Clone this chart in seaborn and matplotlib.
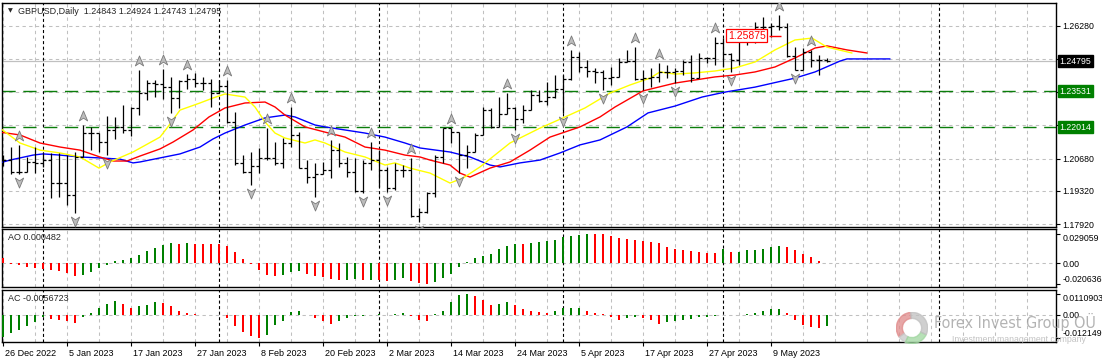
import numpy as np
import seaborn as sns
import matplotlib.pyplot as plt
from matplotlib.path import Path
from matplotlib.patches import Wedge
from matplotlib.transforms import blended_transform_factory, ScaledTranslation

# ---------------- data (GBPUSD, Daily) ----------------
date_labels = ["26 Dec 2022", "5 Jan 2023", "17 Jan 2023", "27 Jan 2023", "8 Feb 2023",
               "20 Feb 2023", "2 Mar 2023", "14 Mar 2023", "24 Mar 2023", "5 Apr 2023",
               "17 Apr 2023", "27 Apr 2023", "9 May 2023"]

highs = [1.2083, 1.2117, 1.2126, 1.2075, 1.2117, 1.2092, 1.2092, 1.2092, 1.2083, 1.2096,
         1.2210, 1.2202, 1.2176, 1.2248, 1.2244, 1.2294, 1.2286, 1.2442, 1.2400, 1.2400,
         1.2446, 1.2413, 1.2400, 1.2425, 1.2429, 1.2413, 1.2404, 1.2400, 1.2400, 1.2265,
         1.2083, 1.2096, 1.2113, 1.2197, 1.2138, 1.2155, 1.2286, 1.2180, 1.2062, 1.2050,
         1.2054, 1.2147, 1.2134, 1.2075, 1.2071, 1.2062, 1.2138, 1.2104, 1.2033, 1.2050,
         1.2041, 1.2071, 1.1860, 1.1927, 1.2083, 1.2197, 1.2197, 1.2180, 1.2126, 1.2176,
         1.2286, 1.2282, 1.2328, 1.2345, 1.2286, 1.2294, 1.2358, 1.2358, 1.2392, 1.2421,
         1.2421, 1.2527, 1.2518, 1.2484, 1.2451, 1.2442, 1.2455, 1.2493, 1.2527, 1.2539,
         1.2442, 1.2451, 1.2472, 1.2463, 1.2451, 1.2484, 1.2506, 1.2514, 1.2497, 1.2582,
         1.2577, 1.2514, 1.2582, 1.2603, 1.2645, 1.2666, 1.2641, 1.2674, 1.2641, 1.2539,
         1.2535, 1.2527, 1.2506, 1.24924]
lows = [1.2037, 1.2003, 1.2003, 1.2012, 1.2007, 1.2033, 1.1902, 1.1906, 1.1872, 1.1838,
        1.2075, 1.2104, 1.2096, 1.2083, 1.2151, 1.2176, 1.2164, 1.2252, 1.2316, 1.2328,
        1.2320, 1.2261, 1.2282, 1.2362, 1.2370, 1.2358, 1.2286, 1.2345, 1.2218, 1.2041,
        1.2007, 1.1957, 1.2007, 1.2062, 1.2041, 1.2028, 1.2117, 1.2028, 1.1965, 1.1906,
        1.2003, 1.1986, 1.2033, 1.1990, 1.1927, 1.1923, 1.2020, 1.1948, 1.1927, 1.1936,
        1.1990, 1.1822, 1.1800, 1.1838, 1.1906, 1.2050, 1.2134, 1.2007, 1.2028, 1.2096,
        1.2168, 1.2197, 1.2202, 1.2256, 1.2189, 1.2218, 1.2273, 1.2307, 1.2294, 1.2324,
        1.2261, 1.2400, 1.2434, 1.2413, 1.2387, 1.2358, 1.2379, 1.2413, 1.2476, 1.2400,
        1.2358, 1.2370, 1.2392, 1.2408, 1.2387, 1.2421, 1.2392, 1.2408, 1.2472, 1.2463,
        1.2455, 1.2434, 1.2463, 1.2548, 1.2556, 1.2590, 1.2582, 1.2611, 1.2497, 1.2442,
        1.2442, 1.2455, 1.2421, 1.24743]
opens = [1.2050, 1.2062, 1.2012, 1.2012, 1.2054, 1.2050, 1.2062, 1.1965, 1.1965, 1.1914,
         1.2075, 1.2176, 1.2176, 1.2138, 1.2189, 1.2202, 1.2189, 1.2282, 1.2345, 1.2387,
         1.2383, 1.2370, 1.2324, 1.2396, 1.2404, 1.2387, 1.2387, 1.2345, 1.2375, 1.2223,
         1.2050, 1.2012, 1.2037, 1.2071, 1.2071, 1.2050, 1.2134, 1.2168, 1.2028, 1.1990,
         1.2003, 1.2020, 1.2104, 1.2050, 1.2012, 1.1931, 1.2050, 1.2062, 1.2020, 1.1944,
         1.2020, 1.2020, 1.1826, 1.1843, 1.1923, 1.2075, 1.2197, 1.2180, 1.2083, 1.2096,
         1.2168, 1.2273, 1.2202, 1.2256, 1.2282, 1.2235, 1.2273, 1.2337, 1.2311, 1.2328,
         1.2362, 1.2404, 1.2497, 1.2455, 1.2438, 1.2434, 1.2408, 1.2413, 1.2476, 1.2480,
         1.2404, 1.2408, 1.2413, 1.2434, 1.2434, 1.2438, 1.2476, 1.2408, 1.2493, 1.2493,
         1.2556, 1.2510, 1.2484, 1.2582, 1.2590, 1.2624, 1.2624, 1.2628, 1.2624, 1.2501,
         1.2442, 1.2518, 1.2484, 1.24843]
closes = [1.2062, 1.2012, 1.2012, 1.2054, 1.2050, 1.2062, 1.1965, 1.1965, 1.1914, 1.2075,
          1.2176, 1.2176, 1.2138, 1.2189, 1.2202, 1.2189, 1.2282, 1.2345, 1.2387, 1.2383,
          1.2370, 1.2324, 1.2396, 1.2404, 1.2387, 1.2387, 1.2345, 1.2375, 1.2223, 1.2050,
          1.2012, 1.2037, 1.2071, 1.2071, 1.2050, 1.2134, 1.2168, 1.2028, 1.1990, 1.2003,
          1.2020, 1.2104, 1.2050, 1.2012, 1.1931, 1.2050, 1.2062, 1.2020, 1.1944, 1.2020,
          1.2020, 1.1826, 1.1843, 1.1923, 1.2075, 1.2197, 1.2180, 1.2083, 1.2096, 1.2168,
          1.2273, 1.2202, 1.2256, 1.2282, 1.2235, 1.2273, 1.2337, 1.2311, 1.2328, 1.2362,
          1.2404, 1.2497, 1.2455, 1.2438, 1.2434, 1.2408, 1.2413, 1.2476, 1.2480, 1.2404,
          1.2408, 1.2413, 1.2434, 1.2434, 1.2438, 1.2476, 1.2408, 1.2493, 1.2493, 1.2556,
          1.2510, 1.2484, 1.2582, 1.2590, 1.2624, 1.2624, 1.2628, 1.2624, 1.2501, 1.2442,
          1.2518, 1.2484, 1.2484, 1.24795]

# Alligator lines (bar position, price) - shifted into the future
jaw_x = [-0.375, 0.875, 2.125, 3.75, 5, 7.125, 9.625, 12.125, 14.625, 16.25, 17.125, 19.625,
         22.125, 24.625, 26.25, 27.75, 30.25, 32.75, 35.25, 36.5, 39, 40.25, 42.75, 45.25,
         47.75, 50.25, 52.125, 55.875, 58.375, 60.875, 62.125, 64.625, 67.125, 69.625,
         72.125, 74.625, 78, 80.625, 84, 87.375, 90.25, 94, 96.875, 99, 101.5, 104.625,
         105.5, 108, 110.875]
jaw_y = [1.2050, 1.2062, 1.2071, 1.2083, 1.2088, 1.2083, 1.2075, 1.2071, 1.2066, 1.2050,
         1.2054, 1.2071, 1.2088, 1.2117, 1.2151, 1.2176, 1.2210, 1.2240, 1.2252, 1.2244,
         1.2210, 1.2202, 1.2189, 1.2176, 1.2159, 1.2134, 1.2113, 1.2096, 1.2075, 1.2041,
         1.2033, 1.2050, 1.2062, 1.2092, 1.2126, 1.2147, 1.2202, 1.2261, 1.2290, 1.2328,
         1.2349, 1.2370, 1.2392, 1.2408, 1.2434, 1.2480, 1.2489, 1.2489, 1.2489]
teeth_x = [-0.375, 2.125, 4.625, 7.125, 9.625, 12.125, 13.75, 15.5, 17.125, 19.625, 21.25,
           23.75, 25.75, 27.75, 30.25, 32.75, 34, 35.25, 37.75, 40.25, 42.75, 45.25, 47.75,
           50.25, 52.125, 53.375, 55.875, 57.125, 58.375, 60.875, 63.375, 65.875, 68.375,
           72.125, 74.625, 76.5, 80, 84, 86.5, 89, 91.5, 94, 96.5, 99, 101.5, 103, 105.5, 108]
teeth_y = [1.2180, 1.2168, 1.2134, 1.2117, 1.2104, 1.2075, 1.2058, 1.2058, 1.2079, 1.2109,
           1.2138, 1.2189, 1.2244, 1.2282, 1.2303, 1.2307, 1.2286, 1.2252, 1.2202, 1.2180,
           1.2159, 1.2117, 1.2104, 1.2083, 1.2075, 1.2062, 1.2041, 1.2007, 1.1990, 1.2028,
           1.2054, 1.2104, 1.2159, 1.2202, 1.2244, 1.2286, 1.2354, 1.2387, 1.2400, 1.2413,
           1.2421, 1.2434, 1.2455, 1.2493, 1.2535, 1.2544, 1.2527, 1.2514]
lips_x = [-0.375, 2.125, 4.625, 7.125, 9.625, 12, 13.375, 16.25, 19.625, 20.5, 22.125,
          24.625, 26.25, 27.75, 30.25, 31.5, 32.75, 34, 35.25, 37.75, 39, 40.25, 42.75,
          45.25, 47.75, 49, 50.875, 53.375, 55.875, 57.5, 59.625, 63.375, 67.125, 70,
          72.75, 75.875, 78.375, 80.875, 82.125, 84, 86.5, 89, 91.5, 94, 96.5, 99,
          101.125, 103, 106.125]
lips_y = [1.2197, 1.2134, 1.2104, 1.2092, 1.2075, 1.2028, 1.2054, 1.2096, 1.2159, 1.2197,
          1.2273, 1.2303, 1.2324, 1.2341, 1.2328, 1.2286, 1.2223, 1.2176, 1.2155, 1.2134,
          1.2147, 1.2134, 1.2096, 1.2075, 1.2041, 1.2050, 1.2028, 1.2007, 1.1965, 1.1986,
          1.2033, 1.2134, 1.2197, 1.2240, 1.2282, 1.2345, 1.2379, 1.2408, 1.2434, 1.2425,
          1.2430, 1.2438, 1.2451, 1.2476, 1.2527, 1.2569, 1.2577, 1.2539, 1.2514]

# Bill Williams fractals (bar numbers)
up_fractals = [2, 10, 17, 20, 23, 28, 33, 36, 41, 46, 51, 56, 63, 71, 79, 82, 89, 97, 101]
down_fractals = [2, 9, 13, 21, 31, 39, 45, 48, 52, 57, 64, 70, 75, 80, 84, 91, 99]

ao = [0.0050, -0.0007, -0.0017, -0.0033, -0.0050, -0.0058, -0.0066, -0.0076, -0.0099, -0.0126,
      -0.0116, -0.0089, -0.0050, -0.0017, 0.0023, 0.0036, 0.0050, 0.0083, 0.0122, 0.0155,
      0.0182, 0.0203, 0.0193, 0.0205, 0.0193, 0.0192, 0.0190, 0.0189, 0.0172, 0.0116,
      0.0043, -0.0005, -0.0066, -0.0116, -0.0126, -0.0116, -0.0089, -0.0076, -0.0106, -0.0126,
      -0.0139, -0.0158, -0.0163, -0.0161, -0.0160, -0.0163, -0.0162, -0.0164, -0.0172, -0.0162,
      -0.0149, -0.0172, -0.0198, -0.020636, -0.0182, -0.0149, -0.0109, -0.0033, 0.0010, 0.0050,
      0.0076, 0.0093, 0.0139, 0.0172, 0.0192, 0.0190, 0.0205, 0.0215, 0.0217, 0.0231,
      0.0265, 0.0268, 0.0281, 0.029059, 0.0289, 0.0287, 0.0271, 0.0248, 0.0238, 0.0236,
      0.0225, 0.0208, 0.0198, 0.0165, 0.0142, 0.0132, 0.0122, 0.0109, 0.0106, 0.0105,
      0.0145, 0.0115, 0.0117, 0.0129, 0.0136, 0.0140, 0.0162, 0.0168, 0.0165, 0.0132,
      0.0093, 0.0060, 0.0023, 0.000482]
ac = [-0.0114, -0.0093, -0.0079, -0.0056, -0.0035, -0.0008, -0.0021, -0.0026, -0.0032, -0.0040,
      -0.0012, 0.0012, 0.0035, 0.0058, 0.0074, 0.0058, 0.0039, 0.0048, 0.0053, 0.0067,
      0.0065, 0.0048, 0.0021, 0.0009, 0.0004, 0.0002, 0.0001, 0.0000, -0.0018, -0.0056,
      -0.0092, -0.0110, -0.012149, -0.0106, -0.0053, -0.0030, 0.0014, 0.0021, 0.0000, -0.0018,
      -0.0030, -0.0048, -0.0030, -0.0014, -0.0005, -0.0003, -0.0001, 0.0004, 0.0001, 0.0004,
      0.0009, -0.0003, -0.0026, -0.0030, 0.0004, 0.0021, 0.0067, 0.0106, 0.0110903, 0.0100,
      0.0079, 0.0055, 0.0058, 0.0069, 0.0053, 0.0032, 0.0021, 0.0014, 0.0009, 0.0021,
      0.0035, 0.0036, 0.0037, 0.0021, 0.0009, 0.0004, -0.0009, -0.0026, -0.0018, -0.0012,
      -0.0018, -0.0026, -0.0049, -0.0035, -0.0030, -0.0026, -0.0019, -0.0012, -0.0009, -0.0004,
      0.0001, -0.0002, 0.0000, 0.0004, 0.0011, 0.0019, 0.0032, 0.0033, 0.0012, -0.0026,
      -0.0053, -0.0062, -0.0070, -0.0056723]

price_ticks = [1.26280, 1.24887, 1.23493, 1.22100, 1.20680, 1.19320, 1.17920]
price_tick_labels = ["1.26280", "", "", "", "1.20680", "1.19320", "1.17920"]
bid = 1.24795
levels = [1.23531, 1.22014]
label_price = 1.25875
month_starts = [5, 27, 47, 70, 90, 117]

# ---------------- styling ----------------
sns.set_style("white")
plt.rcParams['font.family'] = ['Liberation Sans', 'DejaVu Sans']
plt.rcParams['lines.scale_dashes'] = False

W, H = 1102, 363
fig = plt.figure(figsize=(W / 100, H / 100), dpi=100)
fig.patch.set_facecolor('white')


def px_box(x0, y0, x1, y1):
    return [x0 / W, 1 - y1 / H, (x1 - x0) / W, (y1 - y0) / H]


ax = fig.add_axes(px_box(2, 3, 1056, 227))
ao_ax = fig.add_axes(px_box(2, 229, 1056, 287))
ac_ax = fig.add_axes(px_box(2, 290, 1056, 342))

n = len(closes)
idx = np.arange(n)
grid_kw = dict(color='#c0c0c0', lw=0.75, ls=(0, (2.4, 2.4)), zorder=0)
sep_kw = dict(color='black', lw=0.8, ls=(0, (2.2, 1.8)), zorder=1)

for a in (ax, ao_ax, ac_ax):
    a.set_xlim(-0.125, 131.625)
    a.set_facecolor('white')
    for s in a.spines.values():
        s.set_color('black')
        s.set_linewidth(1.0)
    for g in np.arange(0, 132, 4):
        a.axvline(g, **grid_kw)
    for m in month_starts:
        a.axvline(m, **sep_kw)
    a.yaxis.tick_right()
    a.tick_params(axis='y', length=3, width=0.8, pad=1.5, labelsize=6.3, colors='black')
    a.tick_params(axis='x', bottom=False, labelbottom=False)

# ---- main price panel ----
ax.set_ylim(1.17794, 1.27251)
ax.set_yticks(price_ticks, price_tick_labels)
for p in price_ticks:
    ax.axhline(p, **grid_kw)
ax.axhline(bid, color='#c0c0c0', lw=0.9, zorder=1)
for lv in levels:
    ax.axhline(lv, color='#0a7d0a', lw=1.0, ls=(0, (9.5, 5.5)), zorder=1)

sns.lineplot(x=jaw_x, y=jaw_y, ax=ax, color='#0000ff', lw=1.0, sort=False, estimator=None, zorder=3)
sns.lineplot(x=teeth_x, y=teeth_y, ax=ax, color='#ff0000', lw=1.0, sort=False, estimator=None, zorder=3)
sns.lineplot(x=lips_x, y=lips_y, ax=ax, color='#ffff00', lw=1.0, sort=False, estimator=None, zorder=3)

ax.vlines(idx, lows, highs, color='black', lw=0.9, zorder=4)
ax.hlines(opens, idx - 0.42, idx, color='black', lw=0.9, zorder=4)
ax.hlines(closes, idx, idx + 0.42, color='black', lw=0.9, zorder=4)

up_arrow = Path([(0, 1), (0.75, -0.8), (0, -0.3), (-0.75, -0.8), (0, 1)],
                [Path.MOVETO, Path.LINETO, Path.LINETO, Path.LINETO, Path.CLOSEPOLY])
down_arrow = Path([(0, -1), (0.75, 0.8), (0, 0.3), (-0.75, 0.8), (0, -1)],
                  [Path.MOVETO, Path.LINETO, Path.LINETO, Path.LINETO, Path.CLOSEPOLY])
ax.plot(up_fractals, [highs[i] + 0.0038 for i in up_fractals], ls='none', marker=up_arrow,
        ms=8, mfc='#bdbdbd', mec='#7a7a7a', mew=0.6, zorder=5)
ax.plot(down_fractals, [lows[i] - 0.0032 for i in down_fractals], ls='none', marker=down_arrow,
        ms=8, mfc='#bdbdbd', mec='#7a7a7a', mew=0.6, zorder=5)

# red price label
ax.text(90.6, label_price, "1.25875", color='#ff0000', fontsize=7.5, ha='left', va='center',
        zorder=6, bbox=dict(boxstyle='square,pad=0.15', fc='white', ec='#ff0000', lw=0.9))
ax.hlines(label_price, 95.7, 97.2, color='#ff0000', lw=1.0, zorder=6)

# right axis boxes
tr = blended_transform_factory(ax.transAxes, ax.transData)
ax.text(1.0035, bid, "1.24795", transform=tr, color='white', fontsize=6.3, va='center', ha='left',
        clip_on=False, zorder=7, bbox=dict(boxstyle='square,pad=0.2', fc='black', ec='black'))
for lv in levels:
    ax.text(1.0035, lv, f"{lv:.5f}", transform=tr, color='white', fontsize=6.3, va='center',
            ha='left', clip_on=False, zorder=7,
            bbox=dict(boxstyle='square,pad=0.2', fc='#008000', ec='#008000'))

# header
fig.text(10 / W, 1 - 11 / H, "▼", fontsize=4.5, ha='center', va='center', family='DejaVu Sans')
fig.text(18 / W, 1 - 11 / H, "GBPUSD,Daily  1.24843 1.24924 1.24743 1.24795", fontsize=6.5,
         ha='left', va='center')


# ---- oscillators ----
def osc(a, vals, lo, hi, name, max_text):
    v = np.array(vals)
    up = np.r_[v[1] > v[0], v[1:] > v[:-1]]
    cols = np.where(up, '#008000', '#ff0000')
    a.bar(idx, v, width=0.2, color=cols, linewidth=0, zorder=3)
    a.axhline(0, **grid_kw)
    a.set_ylim(lo, hi)
    vmax, vmin = v.max(), v.min()
    a.set_yticks([vmax, 0, vmin], [max_text, "0.00", f"{vmin:g}"])
    labs = a.get_yticklabels()
    labs[0].set_va('top')
    labs[2].set_va('bottom')
    a.text(6 / 1054, 0.93, f"{name} {vals[-1]:g}", transform=a.transAxes, fontsize=6.5,
           ha='left', va='top')


osc(ao_ax, ao, -0.02351, 0.03403, 'AO', "0.029059")
osc(ac_ax, ac, -0.01426, 0.0132, 'AC', "0.0110903")

ac_ax.set_xticks(np.arange(0, 8 * len(date_labels), 8), date_labels)
ac_ax.tick_params(axis='x', bottom=True, labelbottom=True, length=3, width=0.8, pad=2,
                  labelsize=6.5, colors='black')
shift = ScaledTranslation(2 / 100, 0, fig.dpi_scale_trans)
for lab in ac_ax.get_xticklabels():
    lab.set_ha('left')
    lab.set_transform(lab.get_transform() + shift)

# ---- watermark ----
logo = fig.add_axes(px_box(896, 312, 928, 344))
logo.set_xlim(-1, 1)
logo.set_ylim(-1, 1)
logo.set_aspect('equal')
logo.axis('off')
logo.patch.set_alpha(0)
for t1, t2, c in [(95, 215, '#e08a8a'), (215, 245, '#c8c8c8'), (245, 335, '#9fd69f'),
                  (335, 455, '#c0c0c0')]:
    logo.add_patch(Wedge((0, 0), 0.98, t1, t2, width=0.38, color=c, alpha=0.75))
fig.text(934 / W, 1 - 322 / H, "Forex Invest Group OÜ", fontsize=11.5, color='#9a9a9a', alpha=0.75,
         ha='left', va='center', family=['Liberation Sans Narrow', 'DejaVu Sans'],
         fontstretch='condensed')
fig.text(952 / W, 1 - 339 / H, "Investment management company", fontsize=6.3, color='#b4b4b4',
         alpha=0.8, ha='left', va='center')

fig.savefig("out.png", dpi=100)
